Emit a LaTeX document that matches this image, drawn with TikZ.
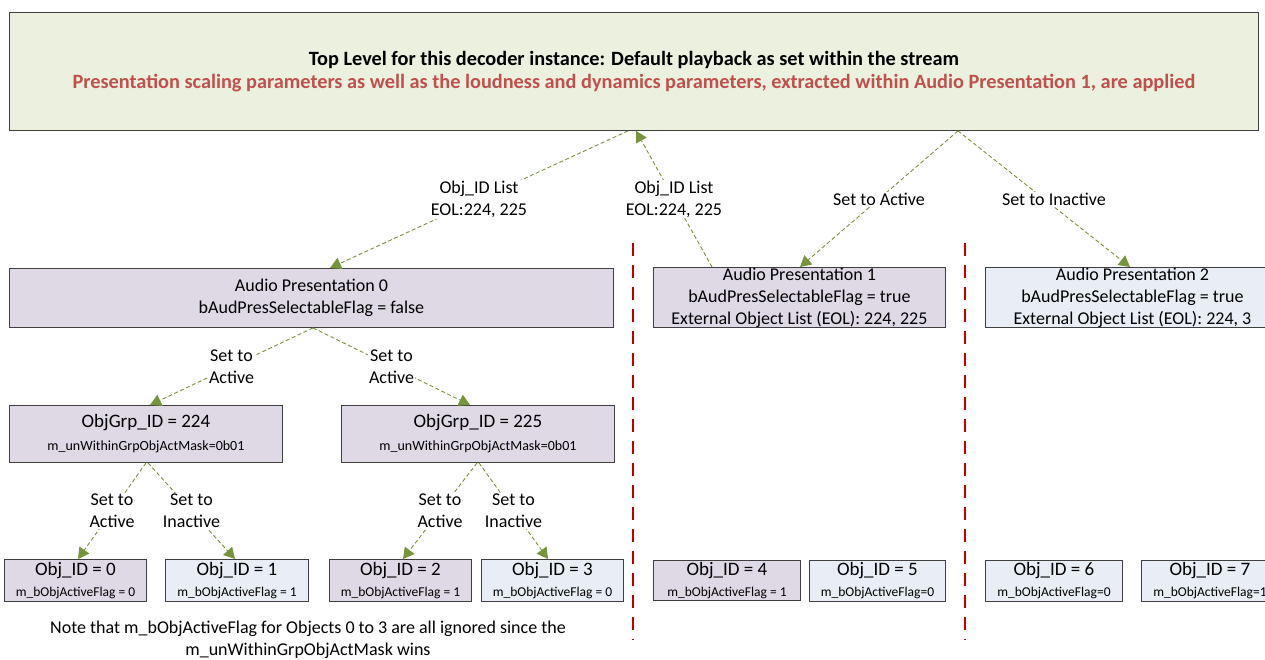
\documentclass[tikz,border=0pt]{standalone}
\usepackage{fontspec}
\setmainfont{Carlito}
\usetikzlibrary{arrows.meta}
\definecolor{topfill}{HTML}{EBF1DE}
\definecolor{lavfill}{HTML}{DFD9E6}
\definecolor{bluefill}{HTML}{E8EDF6}
\definecolor{boxline}{HTML}{3F3F3F}
\definecolor{linkgreen}{HTML}{77933C}
\definecolor{splitred}{HTML}{C00000}
\definecolor{notered}{HTML}{C0504D}
\tikzset{
  box/.style={draw=boxline, line width=0.9pt, inner sep=0pt, align=center,
    anchor=north west, font=\fontsize{18}{22}\selectfont},
  lavbox/.style={box, fill=lavfill},
  bluebox/.style={box, fill=bluefill},
  link/.style={draw=linkgreen, line width=0.9pt, dash pattern=on 4pt off 2.5pt,
    -{Triangle[length=11pt,width=12pt,fill=linkgreen]}},
  linklabel/.style={fill=white, inner sep=1pt, align=center,
    font=\fontsize{18}{22}\selectfont},
  splitter/.style={draw=splitred, line width=2pt, dash pattern=on 13pt off 9pt},
}
\newcommand{\objtext}[2]{{\fontsize{19}{22}\selectfont #1}\\[-1pt]{\fontsize{13.5}{16}\selectfont #2}}
\begin{document}
\begin{tikzpicture}[x=1pt,y=-1pt]
\useasboundingbox (0,0) rectangle (1265,659);
\clip (0,0) rectangle (1265,659);

% top level box
\node[box, fill=topfill, minimum width=1249pt, minimum height=118pt,
      font=\fontsize{20.3}{23}\selectfont\bfseries] (top) at (9,12)
  {Top Level for this decoder instance: Default playback as set within the stream\\
   \textcolor{notered}{Presentation scaling parameters as well as the loudness and dynamics parameters, extracted within Audio Presentation 1, are applied}};

% separators between presentations
\coordinate (sepA1) at (633,243);
\coordinate (sepA2) at (633,640);
\coordinate (sepB1) at (965,243);
\coordinate (sepB2) at (965,640);
\draw[splitter] (sepA1) -- (sepA2);
\draw[splitter] (sepB1) -- (sepB2);

% audio presentations
\node[lavbox, minimum width=604pt, minimum height=59pt] (ap0) at (9,268)
  {Audio Presentation 0\\bAudPresSelectableFlag = false};
\node[lavbox, minimum width=292pt, minimum height=60pt] (ap1) at (653,267)
  {Audio Presentation 1\\bAudPresSelectableFlag = true\\External Object List (EOL): 224, 225};
\node[bluebox, minimum width=300pt, minimum height=60pt] (ap2) at (985,267)
  {\hspace*{-6pt}Audio Presentation 2\\\hspace*{-6pt}bAudPresSelectableFlag = true\\\hspace*{-6pt}External Object List (EOL): 224, 3};

% object groups
\node[lavbox, minimum width=273pt, minimum height=57pt] (g224) at (9,405)
  {{\fontsize{19}{22}\selectfont ObjGrp\_ID = 224}\\[1pt]{\fontsize{14}{16}\selectfont m\_unWithinGrpObjActMask=0b01}};
\node[lavbox, minimum width=273pt, minimum height=57pt] (g225) at (341,405)
  {{\fontsize{19}{22}\selectfont ObjGrp\_ID = 225}\\[1pt]{\fontsize{14}{16}\selectfont m\_unWithinGrpObjActMask=0b01}};

% objects
\node[lavbox,  minimum width=142pt, minimum height=42pt] (o0) at (4,559)   {\objtext{Obj\_ID = 0}{m\_bObjActiveFlag = 0}};
\node[bluebox, minimum width=143pt, minimum height=42pt] (o1) at (165,559) {\objtext{Obj\_ID = 1}{m\_bObjActiveFlag = 1}};
\node[lavbox,  minimum width=142pt, minimum height=42pt] (o2) at (329,559) {\objtext{Obj\_ID = 2}{m\_bObjActiveFlag = 1}};
\node[bluebox, minimum width=142pt, minimum height=42pt] (o3) at (481,559) {\objtext{Obj\_ID = 3}{m\_bObjActiveFlag = 0}};
\node[lavbox,  minimum width=147pt, minimum height=40pt] (o4) at (653,560) {\objtext{Obj\_ID = 4}{m\_bObjActiveFlag = 1}};
\node[bluebox, minimum width=136pt, minimum height=41pt] (o5) at (809,560) {\objtext{Obj\_ID = 5}{m\_bObjActiveFlag=0}};
\node[bluebox, minimum width=137pt, minimum height=41pt] (o6) at (985,560) {\objtext{Obj\_ID = 6}{m\_bObjActiveFlag=0}};
\node[bluebox, minimum width=137pt, minimum height=41pt] (o7) at (1141,560) {\objtext{Obj\_ID = 7}{m\_bObjActiveFlag=1}};

% links between levels
\draw[link] ([xshift=619pt]top.south west) -- node[linklabel] {Obj\_ID List\\EOL:224, 225} ([xshift=321pt]ap0.north west);
\draw[link] ([xshift=59pt]ap1.north west) -- node[linklabel] {Obj\_ID List\\EOL:224, 225} ([xshift=627pt]top.south west);
\draw[link] ([xshift=949pt]top.south west) -- node[linklabel] {Set to Active} ([xshift=147pt]ap1.north west);
\draw[link] ([xshift=949pt]top.south west) -- node[linklabel, xshift=10pt] {Set to Inactive} ([xshift=145pt]ap2.north west);

\draw[link] ([xshift=304pt]ap0.south west) -- node[linklabel] {Set to\\Active} ([xshift=141pt]g224.north west);
\draw[link] ([xshift=304pt]ap0.south west) -- node[linklabel] {Set to\\Active} ([xshift=129pt]g225.north west);

\draw[link] ([xshift=137pt]g224.south west) -- node[linklabel] {Set to\\Active} ([xshift=74pt]o0.north west);
\draw[link] ([xshift=139pt]g224.south west) -- node[linklabel] {Set to\\Inactive} ([xshift=70pt]o1.north west);
\draw[link] ([xshift=136pt]g225.south west) -- node[linklabel] {Set to\\Active} ([xshift=74pt]o2.north west);
\draw[link] ([xshift=138pt]g225.south west) -- node[linklabel] {Set to\\Inactive} ([xshift=67pt]o3.north west);

% footnote
\node[align=center, font=\fontsize{18}{22}\selectfont] (note) at (308,640)
  {Note that m\_bObjActiveFlag for Objects 0 to 3 are all ignored since the\\m\_unWithinGrpObjActMask wins};
\end{tikzpicture}
\end{document}
